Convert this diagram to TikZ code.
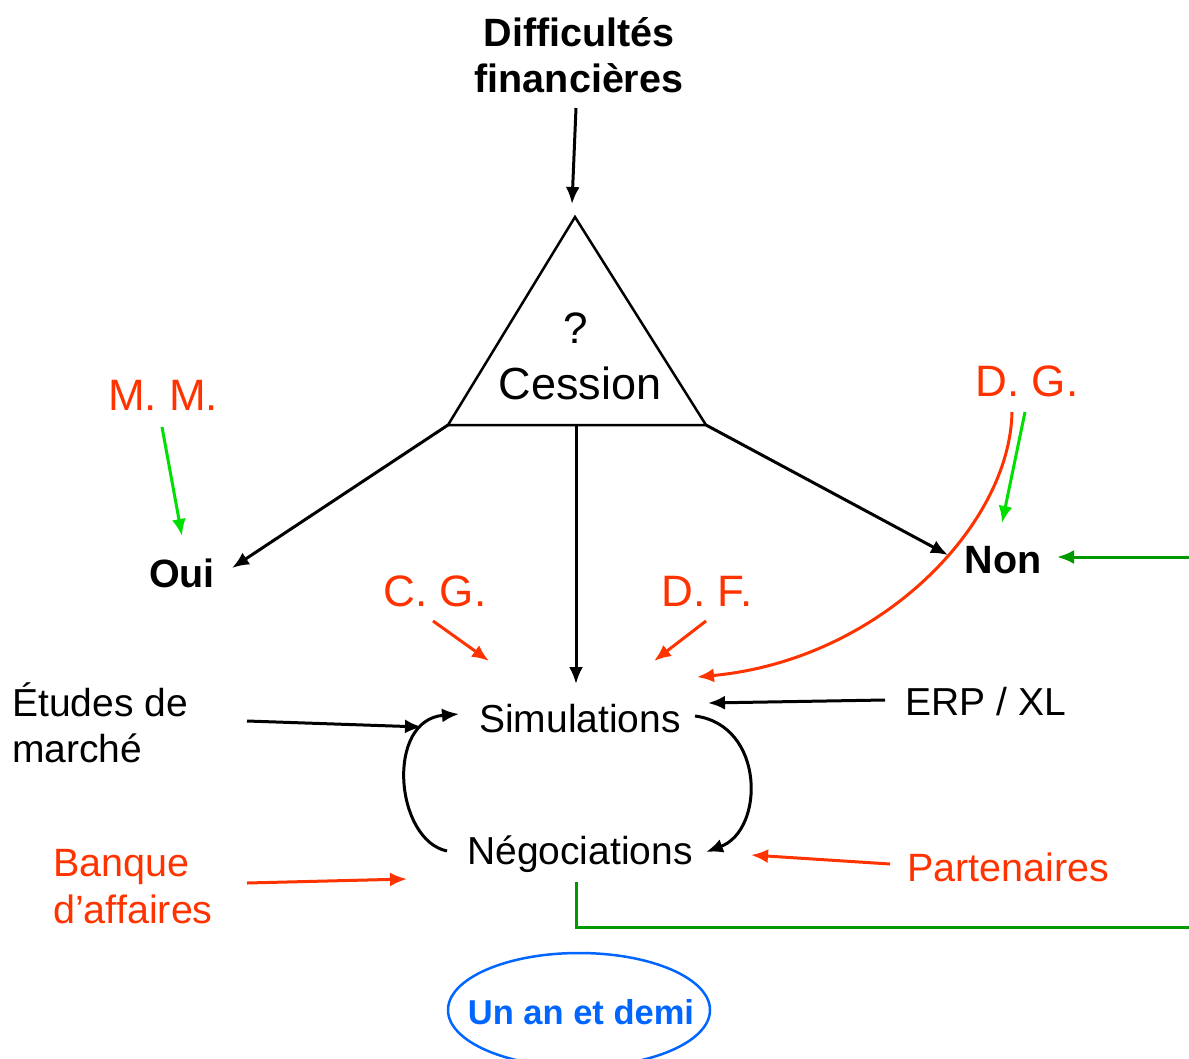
\documentclass[tikz,border=0pt]{standalone}
\usepackage{fontspec}
\setmainfont{Liberation Sans}
\usetikzlibrary{arrows.meta}
\definecolor{rd}{HTML}{FF3300}
\definecolor{lg}{HTML}{00E000}
\definecolor{dg}{HTML}{009900}
\definecolor{bl}{HTML}{0066FF}
\tikzset{
  lbl/.style={inner sep=0pt, font=\fontsize{39}{46}\selectfont},
  blbl/.style={inner sep=0pt, font=\bfseries\fontsize{39.5}{46}\selectfont},
  rlbl/.style={inner sep=0pt, text=rd, font=\fontsize{44}{50}\selectfont},
  rlbls/.style={inner sep=0pt, text=rd, font=\fontsize{39.5}{47}\selectfont},
  conn/.style={line width=3pt, -{Latex[length=17pt,width=14pt]}},
}
\begin{document}
\begin{tikzpicture}[x=1pt,y=-1pt]
\useasboundingbox (0,0) rectangle (1189,1058);

% title
\node[blbl, align=center] (diff) at (579,55) {Difficultés\\financières};

% triangle
\coordinate (apex) at (575,217);
\coordinate (bl) at (448,425);
\coordinate (br) at (706,425);
\coordinate (bm) at (576,425);
\draw[line width=2.5pt, line join=miter] (apex) -- (bl) -- (br) -- cycle;
\node[inner sep=0pt, font=\fontsize{44}{50}\selectfont] (q) at (576,328) {?};
\node[inner sep=0pt, font=\fontsize{45}{50}\selectfont] (cession) at (580,383) {Cession};

\coordinate (diffEnd) at (576,108);
\draw[conn] (diffEnd) -- (572,204) coordinate (apexIn);

% outcomes
\node[blbl] (oui) at (182,573) {Oui};
\node[blbl] (non) at (1003,560) {Non};
\node[lbl] (sim) at (580,719) {Simulations};
\node[lbl] (neg) at (580,854) {Négociations};

\coordinate (ouiIn) at (232,568);
\coordinate (nonIn) at (948,555);
\coordinate (simTop) at (576,684);
\draw[conn] (bl) -- (ouiIn);
\draw[conn] (bm) -- (simTop);
\draw[conn] (br) -- (nonIn);

% red actors
\node[rlbl] (mm) at (163,395) {M. M.};
\node[rlbl] (dgn) at (1027,381) {D. G.};
\node[rlbl] (cg) at (435,591) {C. G.};
\node[rlbl] (df) at (707,591) {D. F.};

\draw[conn, lg] (162,427) coordinate (mmOut) -- (182,536) coordinate (ouiTop);
\draw[conn, lg] (1025,412) coordinate (dgOut) -- (1002,523) coordinate (nonTop);
\draw[conn, rd] (1012,412) coordinate (dgOut2) .. controls (1010,525) and (880,660) .. (697,677) coordinate (simNE);
\draw[conn, rd] (433,621) coordinate (cgOut) -- (489,661) coordinate (simNW);
\draw[conn, rd] (706,621) coordinate (dfOut) -- (654,661) coordinate (simNE2);

% dark green feedback
\coordinate (rightA) at (1189,557);
\coordinate (nonR) at (1057,557);
\draw[conn, dg] (rightA) -- (nonR);
\coordinate (negBot) at (576,882);
\coordinate (rightB) at (1189,927);
\draw[line width=3pt, dg] (negBot) -- (576,927) -- (rightB);

% left inputs
\node[lbl, align=left, anchor=west] (etu) at (12,723) {Études de\\marché};
\draw[conn] (247,721) coordinate (etuOut) -- (422,727) coordinate (simW);
\node[lbl] (erp) at (986,702) {ERP / XL};
\draw[conn] (885,700) coordinate (erpOut) -- (708,703) coordinate (simE);

\node[rlbls, align=left, anchor=west] (bq) at (53,887) {Banque\\d’affaires};
\draw[conn, rd] (247,883) coordinate (bqOut) -- (407,879) coordinate (negW);
\node[rlbls] (part) at (1008,867) {Partenaires};
\draw[conn, rd] (890,864) coordinate (partOut) -- (751,855) coordinate (negE);

% cycle
\draw[conn] (447,851) coordinate (negL) .. controls (395,840) and (385,720) .. (459,714) coordinate (simL);
\draw[conn] (695,716) coordinate (simR) .. controls (765,725) and (765,830) .. (706,852) coordinate (negR);

% duration
\draw[bl, line width=2.5pt] (579,1010) ellipse [x radius=131, y radius=57];
\node[inner sep=0pt, text=bl, font=\bfseries\fontsize{34.5}{38}\selectfont] (dur) at (581,1012) {Un an et demi};
\end{tikzpicture}
\end{document}
